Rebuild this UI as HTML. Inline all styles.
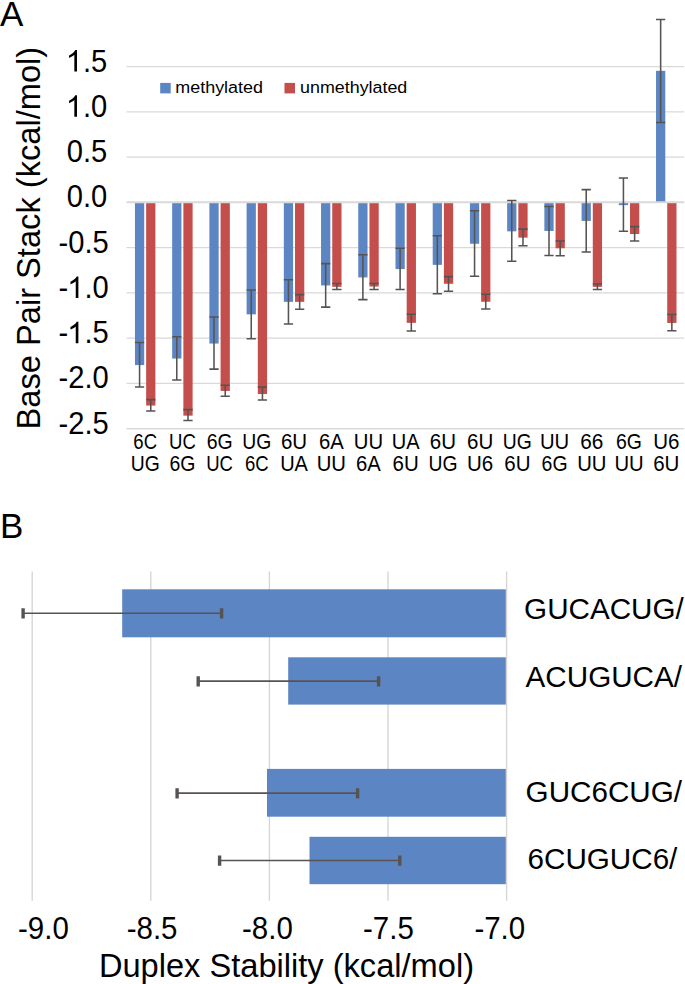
<!DOCTYPE html>
<html><head><meta charset="utf-8"><title>Figure</title>
<style>
html,body{margin:0;padding:0;background:#fff;}
body{width:685px;height:984px;overflow:hidden;}
svg{display:block;}
text{font-family:"Liberation Sans",sans-serif;fill:#000;}
</style></head><body>
<svg width="685" height="984" viewBox="0 0 685 984">
<rect width="685" height="984" fill="#fff"/>
<line x1="126.5" x2="684.2" y1="66.53" y2="66.53" stroke="#d9d9d9" stroke-width="1.3"/>
<line x1="126.5" x2="684.2" y1="111.80" y2="111.80" stroke="#d9d9d9" stroke-width="1.3"/>
<line x1="126.5" x2="684.2" y1="157.07" y2="157.07" stroke="#d9d9d9" stroke-width="1.3"/>
<line x1="126.5" x2="684.2" y1="247.62" y2="247.62" stroke="#d9d9d9" stroke-width="1.3"/>
<line x1="126.5" x2="684.2" y1="292.90" y2="292.90" stroke="#d9d9d9" stroke-width="1.3"/>
<line x1="126.5" x2="684.2" y1="338.17" y2="338.17" stroke="#d9d9d9" stroke-width="1.3"/>
<line x1="126.5" x2="684.2" y1="383.45" y2="383.45" stroke="#d9d9d9" stroke-width="1.3"/>
<line x1="126.5" x2="684.2" y1="428.73" y2="428.73" stroke="#d9d9d9" stroke-width="1.3"/>
<rect x="134.95" y="202.35" width="9.25" height="162.70" fill="#5b86c3"/>
<rect x="146.15" y="202.35" width="9.25" height="203.20" fill="#c44e4b"/>
<rect x="172.17" y="202.35" width="9.25" height="156.20" fill="#5b86c3"/>
<rect x="183.37" y="202.35" width="9.25" height="213.30" fill="#c44e4b"/>
<rect x="209.39" y="202.35" width="9.25" height="141.20" fill="#5b86c3"/>
<rect x="220.59" y="202.35" width="9.25" height="188.60" fill="#c44e4b"/>
<rect x="246.61" y="202.35" width="9.25" height="112.00" fill="#5b86c3"/>
<rect x="257.81" y="202.35" width="9.25" height="191.70" fill="#c44e4b"/>
<rect x="283.83" y="202.35" width="9.25" height="99.50" fill="#5b86c3"/>
<rect x="295.03" y="202.35" width="9.25" height="99.50" fill="#c44e4b"/>
<rect x="321.05" y="202.35" width="9.25" height="83.10" fill="#5b86c3"/>
<rect x="332.25" y="202.35" width="9.25" height="84.50" fill="#c44e4b"/>
<rect x="358.27" y="202.35" width="9.25" height="75.10" fill="#5b86c3"/>
<rect x="369.47" y="202.35" width="9.25" height="84.20" fill="#c44e4b"/>
<rect x="395.49" y="202.35" width="9.25" height="66.70" fill="#5b86c3"/>
<rect x="406.69" y="202.35" width="9.25" height="120.50" fill="#c44e4b"/>
<rect x="432.71" y="202.35" width="9.25" height="62.50" fill="#5b86c3"/>
<rect x="443.91" y="202.35" width="9.25" height="81.40" fill="#c44e4b"/>
<rect x="469.93" y="202.35" width="9.25" height="41.40" fill="#5b86c3"/>
<rect x="481.13" y="202.35" width="9.25" height="99.40" fill="#c44e4b"/>
<rect x="507.15" y="202.35" width="9.25" height="29.00" fill="#5b86c3"/>
<rect x="518.35" y="202.35" width="9.25" height="35.30" fill="#c44e4b"/>
<rect x="544.37" y="202.35" width="9.25" height="28.60" fill="#5b86c3"/>
<rect x="555.57" y="202.35" width="9.25" height="45.90" fill="#c44e4b"/>
<rect x="581.59" y="202.35" width="9.25" height="18.55" fill="#5b86c3"/>
<rect x="592.79" y="202.35" width="9.25" height="84.50" fill="#c44e4b"/>
<rect x="618.81" y="202.35" width="9.25" height="2.80" fill="#5b86c3"/>
<rect x="630.01" y="202.35" width="9.25" height="31.70" fill="#c44e4b"/>
<rect x="656.03" y="70.80" width="9.25" height="131.55" fill="#5b86c3"/>
<rect x="667.23" y="202.35" width="9.25" height="120.60" fill="#c44e4b"/>
<line x1="126.5" x2="684.2" y1="202.35" y2="202.35" stroke="#d9d9d9" stroke-width="2.0"/>
<g stroke="#585353" stroke-width="1.55" fill="none">
<path d="M134.95 342.50H144.20M134.95 387.00H144.20M139.57 342.50V387.00"/>
<path d="M146.15 399.60H155.40M146.15 410.90H155.40M150.78 399.60V410.90"/>
<path d="M172.17 336.80H181.42M172.17 379.90H181.42M176.79 336.80V379.90"/>
<path d="M183.37 409.60H192.62M183.37 420.50H192.62M188.00 409.60V420.50"/>
<path d="M209.39 316.90H218.64M209.39 369.10H218.64M214.01 316.90V369.10"/>
<path d="M220.59 385.20H229.84M220.59 396.30H229.84M225.22 385.20V396.30"/>
<path d="M246.61 289.90H255.86M246.61 338.70H255.86M251.23 289.90V338.70"/>
<path d="M257.81 387.10H267.06M257.81 399.90H267.06M262.44 387.10V399.90"/>
<path d="M283.83 279.70H293.08M283.83 324.00H293.08M288.45 279.70V324.00"/>
<path d="M295.03 294.60H304.28M295.03 309.30H304.28M299.65 294.60V309.30"/>
<path d="M321.05 263.60H330.30M321.05 307.10H330.30M325.67 263.60V307.10"/>
<path d="M332.25 283.50H341.50M332.25 289.40H341.50M336.88 283.50V289.40"/>
<path d="M358.27 254.70H367.52M358.27 299.60H367.52M362.89 254.70V299.60"/>
<path d="M369.47 283.50H378.72M369.47 289.40H378.72M374.10 283.50V289.40"/>
<path d="M395.49 248.20H404.74M395.49 289.50H404.74M400.11 248.20V289.50"/>
<path d="M406.69 314.30H415.94M406.69 331.00H415.94M411.31 314.30V331.00"/>
<path d="M432.71 235.80H441.96M432.71 293.75H441.96M437.33 235.80V293.75"/>
<path d="M443.91 276.60H453.16M443.91 291.30H453.16M448.53 276.60V291.30"/>
<path d="M469.93 210.80H479.18M469.93 276.30H479.18M474.56 210.80V276.30"/>
<path d="M481.13 294.30H490.38M481.13 309.00H490.38M485.75 294.30V309.00"/>
<path d="M507.15 200.50H516.40M507.15 261.30H516.40M511.77 200.50V261.30"/>
<path d="M518.35 229.10H527.60M518.35 245.80H527.60M522.98 229.10V245.80"/>
<path d="M544.37 206.50H553.62M544.37 255.50H553.62M548.99 206.50V255.50"/>
<path d="M555.57 240.90H564.82M555.57 255.80H564.82M560.19 240.90V255.80"/>
<path d="M581.59 189.60H590.84M581.59 252.00H590.84M586.21 189.60V252.00"/>
<path d="M592.79 283.90H602.04M592.79 289.40H602.04M597.41 283.90V289.40"/>
<path d="M618.81 178.00H628.06M618.81 231.20H628.06M623.43 178.00V231.20"/>
<path d="M630.01 226.60H639.26M630.01 241.00H639.26M634.63 226.60V241.00"/>
<path d="M656.03 19.40H665.28M656.03 122.40H665.28M660.65 19.40V122.40"/>
<path d="M667.23 314.40H676.48M667.23 330.80H676.48M671.85 314.40V330.80"/>
</g>
<g transform="translate(107.30,71.53) scale(0.905,1)"><text font-size="32.2" text-anchor="end">.5</text><path transform="translate(-45.858,0) scale(0.016194,-0.014591)" d="M763 0H583V1147Q518 1085 412.5 1023T223 930V1104Q374 1175 487 1276T647 1472H763Z" fill="#000"/></g>
<g transform="translate(107.30,116.80) scale(0.905,1)"><text font-size="32.2" text-anchor="end">.0</text><path transform="translate(-45.858,0) scale(0.016194,-0.014591)" d="M763 0H583V1147Q518 1085 412.5 1023T223 930V1104Q374 1175 487 1276T647 1472H763Z" fill="#000"/></g>
<text transform="translate(107.30,162.07) scale(0.905,1)" font-size="32.2" text-anchor="end">0.5</text>
<text transform="translate(107.30,207.35) scale(0.905,1)" font-size="32.2" text-anchor="end">0.0</text>
<text transform="translate(108.70,252.62) scale(0.905,1)" font-size="32.2" text-anchor="end">-0.5</text>
<g transform="translate(108.70,297.90) scale(0.905,1)"><text font-size="32.2" text-anchor="end">.0</text><path transform="translate(-45.858,0) scale(0.016194,-0.014591)" d="M763 0H583V1147Q518 1085 412.5 1023T223 930V1104Q374 1175 487 1276T647 1472H763Z" fill="#000"/><text x="-44.758" font-size="32.2" text-anchor="end">-</text></g>
<g transform="translate(108.70,343.17) scale(0.905,1)"><text font-size="32.2" text-anchor="end">.5</text><path transform="translate(-45.858,0) scale(0.016194,-0.014591)" d="M763 0H583V1147Q518 1085 412.5 1023T223 930V1104Q374 1175 487 1276T647 1472H763Z" fill="#000"/><text x="-44.758" font-size="32.2" text-anchor="end">-</text></g>
<text transform="translate(108.70,388.45) scale(0.905,1)" font-size="32.2" text-anchor="end">-2.0</text>
<text transform="translate(108.70,433.73) scale(0.905,1)" font-size="32.2" text-anchor="end">-2.5</text>
<text transform="translate(40.2,429.5) rotate(-90)" font-size="32.65">Base Pair Stack (kcal/mol)</text>
<text x="0" y="25.6" font-size="35.0">A</text>
<text x="0" y="538" font-size="35.0">B</text>
<rect x="160.2" y="82.9" width="10.5" height="10.5" fill="#5b86c3"/>
<rect x="284.5" y="82.9" width="10.5" height="10.5" fill="#c44e4b"/>
<text x="175.3" y="93.3" font-size="16.3" textLength="87.7" lengthAdjust="spacingAndGlyphs">methylated</text>
<text x="300.1" y="93.3" font-size="16.3" textLength="107.2" lengthAdjust="spacingAndGlyphs">unmethylated</text>
<text x="133.32" y="448.7" font-size="21.5" textLength="23.71" lengthAdjust="spacingAndGlyphs">6C</text>
<text x="130.66" y="471.2" font-size="21.5" textLength="29.02" lengthAdjust="spacingAndGlyphs">UG</text>
<text x="169.00" y="448.7" font-size="21.5" textLength="26.79" lengthAdjust="spacingAndGlyphs">UC</text>
<text x="169.42" y="471.2" font-size="21.5" textLength="25.95" lengthAdjust="spacingAndGlyphs">6G</text>
<text x="206.64" y="448.7" font-size="21.5" textLength="25.95" lengthAdjust="spacingAndGlyphs">6G</text>
<text x="206.22" y="471.2" font-size="21.5" textLength="26.79" lengthAdjust="spacingAndGlyphs">UC</text>
<text x="242.32" y="448.7" font-size="21.5" textLength="29.02" lengthAdjust="spacingAndGlyphs">UG</text>
<text x="244.98" y="471.2" font-size="21.5" textLength="23.71" lengthAdjust="spacingAndGlyphs">6C</text>
<text x="280.96" y="448.7" font-size="21.5" textLength="26.20" lengthAdjust="spacingAndGlyphs">6U</text>
<text x="280.14" y="471.2" font-size="21.5" textLength="27.84" lengthAdjust="spacingAndGlyphs">UA</text>
<text x="318.89" y="448.7" font-size="21.5" textLength="24.76" lengthAdjust="spacingAndGlyphs">6A</text>
<text x="316.64" y="471.2" font-size="21.5" textLength="29.28" lengthAdjust="spacingAndGlyphs">UU</text>
<text x="353.86" y="448.7" font-size="21.5" textLength="29.28" lengthAdjust="spacingAndGlyphs">UU</text>
<text x="356.11" y="471.2" font-size="21.5" textLength="24.76" lengthAdjust="spacingAndGlyphs">6A</text>
<text x="391.80" y="448.7" font-size="21.5" textLength="27.84" lengthAdjust="spacingAndGlyphs">UA</text>
<text x="392.62" y="471.2" font-size="21.5" textLength="26.20" lengthAdjust="spacingAndGlyphs">6U</text>
<text x="429.84" y="448.7" font-size="21.5" textLength="26.20" lengthAdjust="spacingAndGlyphs">6U</text>
<text x="428.42" y="471.2" font-size="21.5" textLength="29.02" lengthAdjust="spacingAndGlyphs">UG</text>
<text x="467.06" y="448.7" font-size="21.5" textLength="26.20" lengthAdjust="spacingAndGlyphs">6U</text>
<text x="467.06" y="471.2" font-size="21.5" textLength="26.20" lengthAdjust="spacingAndGlyphs">U6</text>
<text x="502.86" y="448.7" font-size="21.5" textLength="29.02" lengthAdjust="spacingAndGlyphs">UG</text>
<text x="504.28" y="471.2" font-size="21.5" textLength="26.20" lengthAdjust="spacingAndGlyphs">6U</text>
<text x="539.96" y="448.7" font-size="21.5" textLength="29.28" lengthAdjust="spacingAndGlyphs">UU</text>
<text x="541.62" y="471.2" font-size="21.5" textLength="25.95" lengthAdjust="spacingAndGlyphs">6G</text>
<text x="580.26" y="448.7" font-size="21.5" textLength="23.12" lengthAdjust="spacingAndGlyphs">66</text>
<text x="577.18" y="471.2" font-size="21.5" textLength="29.28" lengthAdjust="spacingAndGlyphs">UU</text>
<text x="616.06" y="448.7" font-size="21.5" textLength="25.95" lengthAdjust="spacingAndGlyphs">6G</text>
<text x="614.40" y="471.2" font-size="21.5" textLength="29.28" lengthAdjust="spacingAndGlyphs">UU</text>
<text x="653.16" y="448.7" font-size="21.5" textLength="26.20" lengthAdjust="spacingAndGlyphs">U6</text>
<text x="653.16" y="471.2" font-size="21.5" textLength="26.20" lengthAdjust="spacingAndGlyphs">6U</text>
<line x1="32.20" x2="32.20" y1="571.5" y2="900.7" stroke="#d5d3d3" stroke-width="1.3"/>
<line x1="150.80" x2="150.80" y1="571.5" y2="900.7" stroke="#d5d3d3" stroke-width="1.3"/>
<line x1="269.40" x2="269.40" y1="571.5" y2="900.7" stroke="#d5d3d3" stroke-width="1.3"/>
<line x1="388.00" x2="388.00" y1="571.5" y2="900.7" stroke="#d5d3d3" stroke-width="1.3"/>
<line x1="506.60" x2="506.60" y1="571.5" y2="900.7" stroke="#d5d3d3" stroke-width="1.3"/>
<rect x="122.20" y="589.30" width="383.60" height="48.00" fill="#5b86c3"/>
<rect x="288.20" y="657.30" width="217.60" height="47.30" fill="#5b86c3"/>
<rect x="267.00" y="768.90" width="238.80" height="47.80" fill="#5b86c3"/>
<rect x="309.50" y="836.80" width="196.30" height="47.40" fill="#5b86c3"/>
<g stroke="#585353" fill="none">
<path d="M23.10 613.20H221.60" stroke-width="1.6"/><path d="M23.10 608.30V618.50M221.60 608.30V618.50" stroke-width="3.4"/>
<path d="M198.20 681.10H378.60" stroke-width="1.6"/><path d="M198.20 676.20V686.40M378.60 676.20V686.40" stroke-width="3.4"/>
<path d="M177.10 793.10H357.60" stroke-width="1.6"/><path d="M177.10 788.20V798.40M357.60 788.20V798.40" stroke-width="3.4"/>
<path d="M219.60 860.50H399.80" stroke-width="1.6"/><path d="M219.60 855.60V865.80M399.80 855.60V865.80" stroke-width="3.4"/>
</g>
<text transform="translate(18.0,938.5) scale(0.96,1)" font-size="30.7">-9.0</text>
<text transform="translate(126.7,938.5) scale(0.96,1)" font-size="30.7">-8.5</text>
<text transform="translate(242.0,938.5) scale(0.96,1)" font-size="30.7">-8.0</text>
<text transform="translate(363.0,938.5) scale(0.96,1)" font-size="30.7">-7.5</text>
<text transform="translate(474.4,938.5) scale(0.96,1)" font-size="30.7">-7.0</text>
<text x="98.9" y="976.9" font-size="32.62">Duplex Stability (kcal/mol)</text>
<text transform="translate(524.1,619.0) scale(0.975,1)" font-size="30.4">GUCACUG/</text>
<text transform="translate(525.6,686.6) scale(0.975,1)" font-size="30.4">ACUGUCA/</text>
<text transform="translate(525.6,801.6) scale(0.975,1)" font-size="30.4">GUC6CUG/</text>
<text transform="translate(527.5,869.3) scale(0.975,1)" font-size="30.4">6CUGUC6/</text>
</svg>
</body></html>
